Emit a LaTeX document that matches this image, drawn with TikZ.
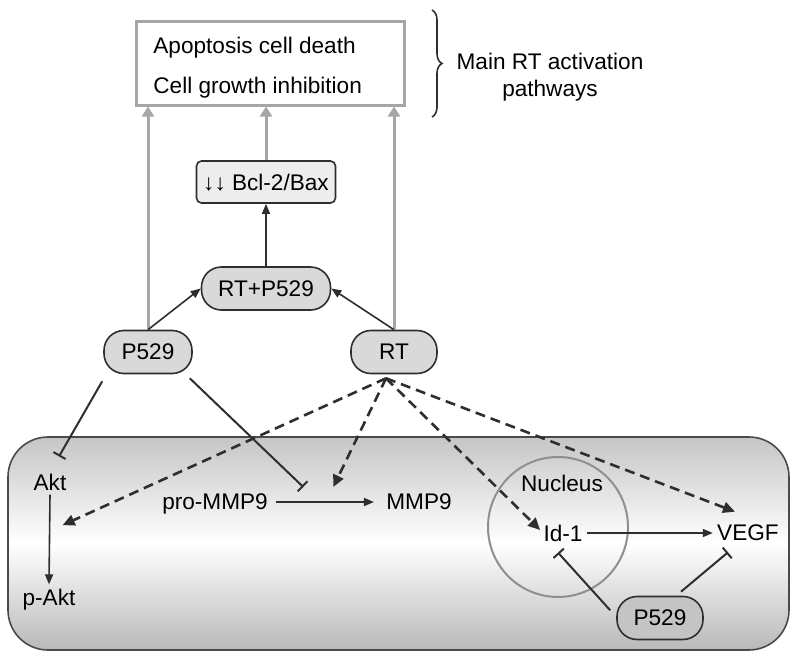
\documentclass[tikz,border=0pt]{standalone}
\usepackage{fontspec}
\setmainfont{Liberation Sans}
\usetikzlibrary{arrows.meta, decorations.pathreplacing, calc}

\definecolor{ink}{HTML}{2E2E2E}
\definecolor{routegray}{HTML}{A6A6A6}
\definecolor{pillfill}{HTML}{D9D9D9}
\definecolor{darkpill}{HTML}{C4C4C4}
\definecolor{bclfill}{HTML}{EDEDED}
\definecolor{cellrim}{HTML}{4A4A4A}
\definecolor{nucgray}{HTML}{8F8F8F}

\begin{document}
\begin{tikzpicture}[x=0.5pt, y=-0.5pt,
    txt/.style={font=\fontsize{11.3}{13.5}\selectfont, inner sep=2pt, text depth=0pt},
    pill/.style={txt, draw=ink, line width=0.8pt, fill=pillfill, rounded corners=10pt, minimum height=21.5pt},
    bclbox/.style={txt, draw=ink, line width=0.8pt, fill=bclfill, rounded corners=2.5pt, minimum width=69.5pt, minimum height=21pt},
    routearrow/.style={draw=routegray, line width=1.5pt, -{Triangle[width=6pt, length=5pt]}},
    act/.style={draw=ink, line width=0.8pt, -{Triangle[width=4pt, length=5pt]}},
    inh/.style={draw=ink, line width=1pt, -{Bar[width=7pt]}},
    maybe/.style={draw=ink, line width=1.3pt, dash pattern=on 5pt off 3pt, -{Triangle[width=5.5pt, length=6pt]}}]
    \useasboundingbox (0, 0) rectangle (800, 659);

    % outcome box
    \node [draw=routegray, line width=1.5pt, minimum width=134pt, minimum height=42pt] (outcome) at (270.5, 63) {};
    \node [txt, anchor=base west] (apop)   at (149, 53) {Apoptosis cell death};
    \node [txt, anchor=base west] (growth) at (149, 93) {Cell growth inhibition};
    \draw [decorate, decoration={brace, amplitude=5pt}, draw=ink, line width=0.8pt] (432, 10) -- (432, 117);
    \node [txt, align=center] (mainrt) at (550, 75) {Main RT activation\\pathways};

    % treatment
    \node [bclbox] (bcl) at (266, 182) {↓↓ Bcl-2/Bax};
    \node [pill, minimum width=64.5pt] (rtp)  at (266, 288.5) {RT+P529};
    \node [pill, minimum width=44pt]   (p529) at (148, 352) {P529};
    \node [pill, minimum width=43pt]   (rt)   at (394, 352) {RT};

    \draw [routearrow] (p529.north) -- (p529.north |- outcome.south);
    \draw [routearrow] (bcl.north)  -- (bcl.north |- outcome.south);
    \draw [routearrow] (rt.north)   -- (rt.north |- outcome.south);
    \draw [act]        (rtp.north)  -- (bcl.south);
    \draw [act]        (p529.north) -- (rtp.west);
    \draw [act]        (rt.north)   -- (rtp.east);

    % cell
    \shade [draw=cellrim, line width=0.8pt, rounded corners=20pt, top color=gray!45, bottom color=gray!55, middle color=white]
        (8, 437) rectangle (789, 650);
    \node [draw=nucgray, line width=1pt, circle, minimum size=70pt, inner sep=0pt] (nucleus) at (558, 527) {};
    \node [txt] (nuclbl) at (562, 483) {Nucleus};

    \node [txt] (akt)   at (50, 482)  {Akt};
    \node [txt] (pakt)  at (49, 597)  {p-Akt};
    \node [txt] (promm) at (215, 502) {pro-MMP9};
    \node [txt] (mmp)   at (419, 502) {MMP9};
    \node [txt] (id1)   at (563, 533) {Id-1};
    \node [txt] (vegf)  at (748, 533) {VEGF};
    \node [pill, minimum width=43pt, fill=darkpill] (p529b) at (660, 618) {P529};

    \coordinate (cleave)  at ($(promm.east)!0.42!(mmp.west)$);
    \coordinate (aktstep) at ($(akt.south)!0.34!(pakt.north)$);
    \coordinate (rtfoot)  at ([shift={(-8, 4)}]rt.south);

    \draw [act] (akt.south)  -- (pakt.north);
    \draw [act, shorten <=2pt, shorten >=4pt] (promm.east) -- (mmp.west);
    \draw [act] (id1.east)   -- (vegf.west);

    % inhibition by P529
    \draw [inh] ([shift={(-1, 7)}]p529.south west) -- ([shift={(9, -13)}]akt.north);
    \draw [inh] ([shift={(-3, 4)}]p529.south east) -- ([shift={(-15, -15)}]cleave);
    \draw [inh] ([shift={(-6, 0)}]p529b.170)      -- ([shift={(-5, 7)}]id1.south);
    \draw [inh] ([shift={(21, -4)}]p529b.north)   -- ([shift={(-20, 7)}]vegf.south);

    % RT effects
    \draw [maybe] (rtfoot) -- ([shift={(13, 0)}]aktstep);
    \draw [maybe] (rtfoot) -- ([shift={(15, -15)}]cleave);
    \draw [maybe] (rtfoot) -- ([shift={(1, -3)}]id1.west);
    \draw [maybe] (rtfoot) -- ([shift={(-13, -9)}]vegf.north);
\end{tikzpicture}
\end{document}
